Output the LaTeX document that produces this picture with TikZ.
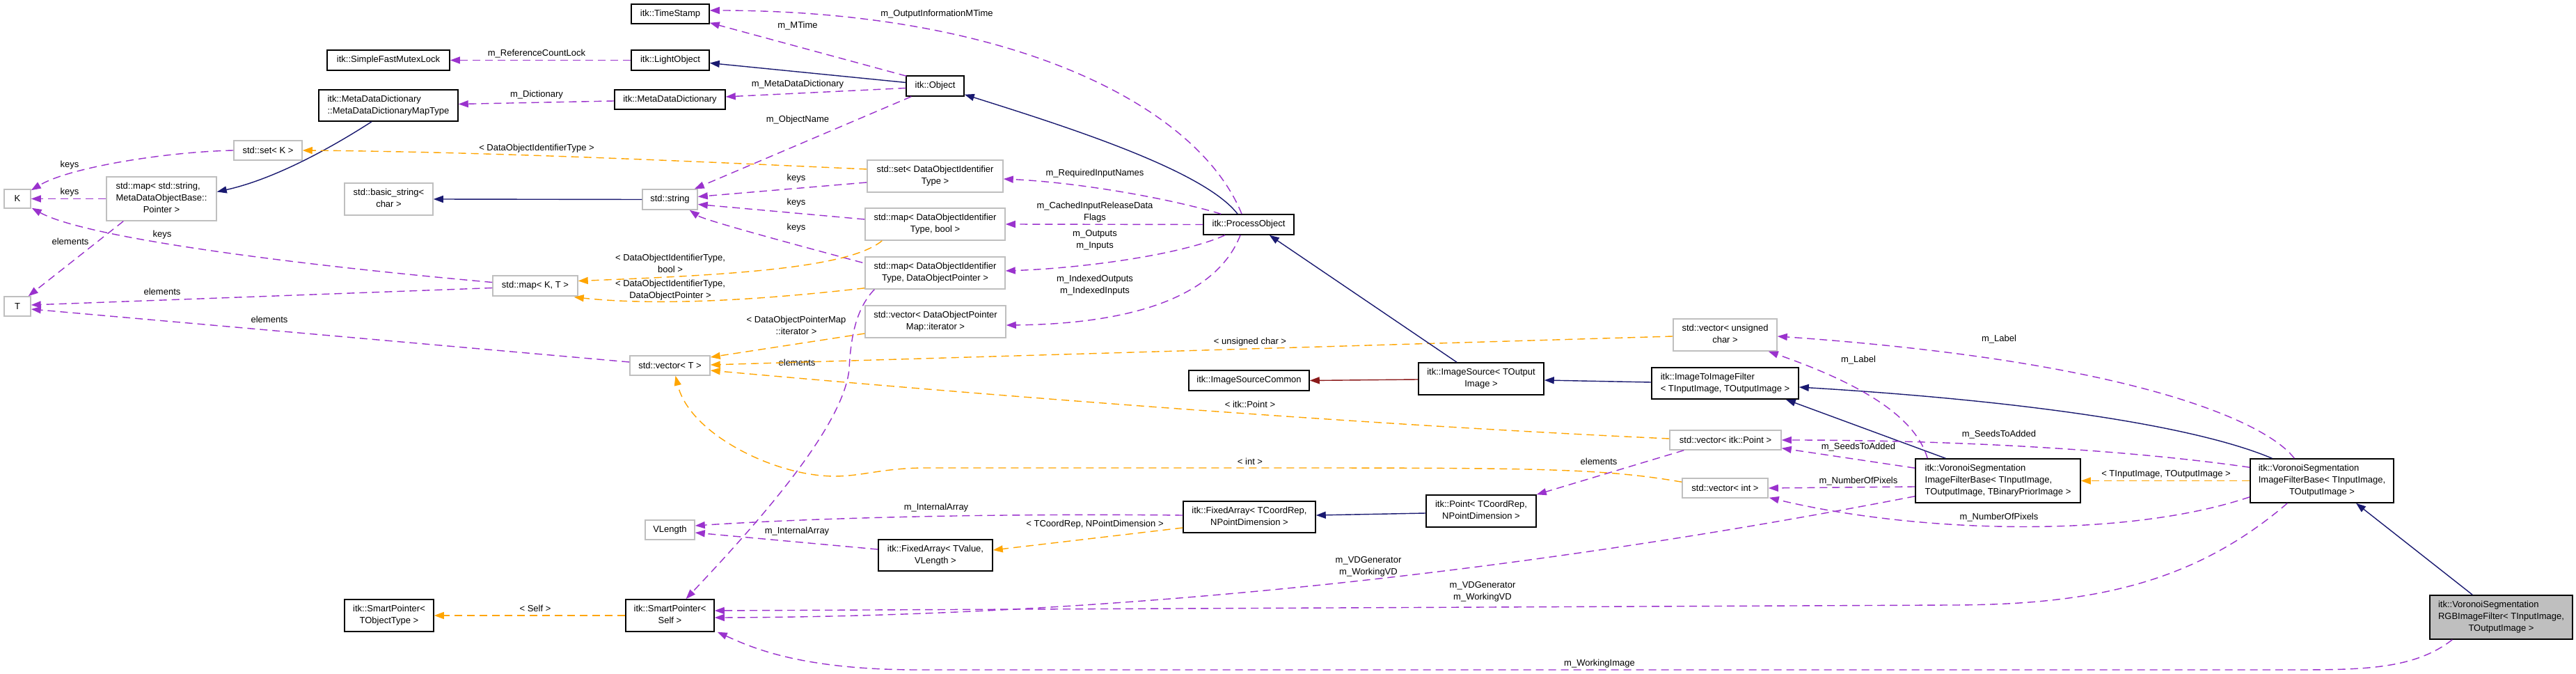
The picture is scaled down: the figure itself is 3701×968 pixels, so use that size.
\documentclass[tikz,border=0pt]{standalone}
\usepackage{fontspec}
\setmainfont{Liberation Sans}
\usetikzlibrary{arrows.meta,calc}
\definecolor{dorchid}{HTML}{9A32CD}
\definecolor{mblue}{HTML}{191970}
\definecolor{orng}{HTML}{FFA500}
\definecolor{fbrick}{HTML}{8B1A1A}
\definecolor{gsev}{HTML}{BFBFBF}
\newcommand{\fsz}{\fontsize{13pt}{17pt}\selectfont}
\newcommand{\dxl}[1]{\begin{tabular}{@{}l@{}}#1\end{tabular}}
\newcommand{\dxc}[1]{\multicolumn{1}{@{}c@{}}{#1}}
\tikzset{
  nbox/.style={draw, line width=1.5pt, inner sep=0pt, font=\fsz, fill=white},
  ndoc/.style={nbox, draw=black},
  nund/.style={nbox, draw=gsev},
  sz/.style 2 args={minimum width=#1pt, minimum height=#2pt},
  lbl/.style={font=\fsz, inner sep=0pt, align=center},
  edgebase/.style={line width=1.4pt, -{Triangle[length=14pt,width=10pt]}},
  eInh/.style={edgebase, draw=mblue},
  eUse/.style={edgebase, draw=dorchid, dash pattern=on 11pt off 7pt},
  eTpl/.style={edgebase, draw=orng, dash pattern=on 11pt off 7pt},
  eRed/.style={edgebase, draw=fbrick},
}
\begin{document}
\begin{tikzpicture}[x=1pt,y=-1pt]
\fill[white] (0,0) rectangle (3701,968);
\useasboundingbox (0,0) rectangle (3701,968);

% ---------- nodes ----------
\node[ndoc,sz={112}{28}] (TS) at (963,20) {itk::TimeStamp};
\node[ndoc,sz={112}{29}] (LO) at (963,86.5) {itk::LightObject};
\node[ndoc,sz={176}{29}] (SFML) at (558,86.5) {itk::SimpleFastMutexLock};
\node[ndoc,sz={159}{28}] (MDD) at (962.5,143) {itk::MetaDataDictionary};
\node[ndoc,sz={200}{45}] (MT) at (558,151.5) {\dxl{itk::MetaDataDictionary\\\dxc{::MetaDataDictionaryMapType}}};
\node[nund,sz={98}{28}] (SK) at (385,216) {std::set< K >};
\node[nund,sz={38}{27}] (K) at (25,285.5) {K};
\node[nund,sz={158}{63}] (MS) at (232,285.5) {\dxl{std::map< std::string,\\MetaDataObjectBase::\\\dxc{Pointer >}}};
\node[nund,sz={38}{28}] (T) at (25,440) {T};
\node[nund,sz={127}{46}] (BS) at (558.5,286) {\dxl{std::basic\_string<\\\dxc{char >}}};
\node[nund,sz={79}{29}] (STR) at (962.5,286.5) {std::string};
\node[nund,sz={122}{29}] (MKT) at (769,410.5) {std::map< K, T >};
\node[nund,sz={115}{28}] (VT) at (962.5,525) {std::vector< T >};
\node[ndoc,sz={83}{29}] (OBJ) at (1343.5,123.5) {itk::Object};
\node[nund,sz={195}{46}] (SDOI) at (1343.5,253) {\dxl{std::set< DataObjectIdentifier\\\dxc{Type >}}};
\node[nund,sz={201}{46}] (MDB) at (1343.5,322) {\dxl{std::map< DataObjectIdentifier\\\dxc{Type, bool >}}};
\node[nund,sz={201}{46}] (MDP) at (1343.5,392) {\dxl{std::map< DataObjectIdentifier\\\dxc{Type, DataObjectPointer >}}};
\node[nund,sz={202}{46}] (VDP) at (1344,462) {\dxl{std::vector< DataObjectPointer\\\dxc{Map::iterator >}}};
\node[ndoc,sz={130}{29}] (PO) at (1794,322.5) {itk::ProcessObject};
\node[ndoc,sz={173}{29}] (ISC) at (1794.5,546.5) {itk::ImageSourceCommon};
\node[ndoc,sz={180}{46}] (IS) at (2128,544) {\dxl{itk::ImageSource< TOutput\\\dxc{Image >}}};
\node[ndoc,sz={211}{45}] (ITIF) at (2478.5,550.5) {\dxl{itk::ImageToImageFilter\\\dxc{< TInputImage, TOutputImage >}}};
\node[nund,sz={149}{46}] (VUC) at (2478.5,481) {\dxl{std::vector< unsigned\\\dxc{char >}}};
\node[nund,sz={160}{28}] (VP) at (2479,632) {std::vector< itk::Point >};
\node[nund,sz={123}{28}] (VI) at (2478.5,701) {std::vector< int >};
\node[nund,sz={71}{28}] (VL) at (962.5,761) {VLength};
\node[ndoc,sz={164}{45}] (FAV) at (1344,797.5) {\dxl{itk::FixedArray< TValue,\\\dxc{VLength >}}};
\node[ndoc,sz={190}{45}] (FAC) at (1795,742.5) {\dxl{itk::FixedArray< TCoordRep,\\\dxc{NPointDimension >}}};
\node[ndoc,sz={158}{46}] (PT) at (2128,734) {\dxl{itk::Point< TCoordRep,\\\dxc{NPointDimension >}}};
\node[ndoc,sz={128}{46}] (SPT) at (559,884) {\dxl{itk::SmartPointer<\\\dxc{TObjectType >}}};
\node[ndoc,sz={127}{46}] (SPS) at (962.5,884) {\dxl{itk::SmartPointer<\\\dxc{Self >}}};
\node[ndoc,sz={237}{63}] (VB3) at (2870.5,690.5) {\dxl{itk::VoronoiSegmentation\\ImageFilterBase< TInputImage,\\\dxc{TOutputImage, TBinaryPriorImage >}}};
\node[ndoc,sz={206}{63}] (VB2) at (3336,690.5) {\dxl{itk::VoronoiSegmentation\\ImageFilterBase< TInputImage,\\\dxc{TOutputImage >}}};
\node[ndoc,sz={205}{63},fill=gsev] (RGB) at (3593.5,886.5) {\dxl{itk::VoronoiSegmentation\\RGBImageFilter< TInputImage,\\\dxc{TOutputImage >}}};

% ---------- labels ----------
\node[lbl] (l1) at (771,77) {m\_ReferenceCountLock};
\node[lbl] (l2) at (771,136) {m\_Dictionary};
\node[lbl] (l3) at (100,237) {keys};
\node[lbl] (l4) at (100,276) {keys};
\node[lbl] (l5) at (101,347) {elements};
\node[lbl] (l6) at (233,337) {keys};
\node[lbl] (l7) at (233,419) {elements};
\node[lbl] (l8) at (387,459) {elements};
\node[lbl] (l9) at (771,213) {< DataObjectIdentifierType >};
\node[lbl] (l10) at (1144,256) {keys};
\node[lbl] (l11) at (1144,291) {keys};
\node[lbl] (l12) at (1144,327) {keys};
\node[lbl] (l13) at (1146,172) {m\_ObjectName};
\node[lbl] (l14) at (1146,37) {m\_MTime};
\node[lbl] (l15) at (1146,121) {m\_MetaDataDictionary};
\node[lbl] (l16) at (1346,20) {m\_OutputInformationMTime};
\node[lbl] (l17) at (1573,249) {m\_RequiredInputNames};
\node[lbl] (l18) at (1573,304.5) {m\_CachedInputReleaseData\\Flags};
\node[lbl] (l19) at (1573,344.5) {m\_Outputs\\m\_Inputs};
\node[lbl] (l20) at (1573,410) {m\_IndexedOutputs\\m\_IndexedInputs};
\node[lbl] (l21) at (963,378) {< DataObjectIdentifierType,\\bool >};
\node[lbl] (l22) at (963,416.5) {< DataObjectIdentifierType,\\DataObjectPointer >};
\node[lbl] (l23) at (1144,467) {< DataObjectPointerMap\\::iterator >};
\node[lbl] (l24) at (1796,491) {< unsigned char >};
\node[lbl] (l25) at (1796,581) {< itk::Point >};
\node[lbl] (l26) at (1796,663) {< int >};
\node[lbl] (l27) at (2297,663) {elements};
\node[lbl] (l28) at (1345,729) {m\_InternalArray};
\node[lbl] (l29) at (1145,763) {m\_InternalArray};
\node[lbl] (l30) at (1573,753) {< TCoordRep, NPointDimension >};
\node[lbl] (l31) at (2670,517) {m\_Label};
\node[lbl] (l32) at (2872,487) {m\_Label};
\node[lbl] (l33) at (2670,642) {m\_SeedsToAdded};
\node[lbl] (l34) at (2872,624) {m\_SeedsToAdded};
\node[lbl] (l35) at (2670,691) {m\_NumberOfPixels};
\node[lbl] (l36) at (2872,743) {m\_NumberOfPixels};
\node[lbl] (l37) at (1966,814) {m\_VDGenerator\\m\_WorkingVD};
\node[lbl] (l38) at (2130,850) {m\_VDGenerator\\m\_WorkingVD};
\node[lbl] (l39) at (2298,953) {m\_WorkingImage};
\node[lbl] (l40) at (3112,681) {< TInputImage, TOutputImage >};
\node[lbl] (l41) at (769,874) {< Self >};
\node[lbl] (l42) at (1145,521) {elements};

% ---------- edges ----------
\draw[eUse] (LO.west) -- (SFML.east);
\draw[eUse] ($(MDD.west)+(0,2)$) -- ($(MT.east)+(0,-2)$);
\draw[eInh] ($(MT.south)+(-24,0)$) .. controls (470,216) and (391,258) .. ($(MS.east)+(0,-10)$);
\draw[eUse] (SK.west) .. controls (240,218) and (100,240) .. ($(K.north east)+(0,2)$);
\draw[eUse] (MS.west) -- (K.east);
\draw[eUse] ($(MS.south west)+(25,0)$) -- ($(T.north east)+(-4,0)$);
\draw[eUse] ($(MKT.west)+(0,-5)$) .. controls (400,378) and (120,340) .. ($(K.south east)+(1,-1)$);
\draw[eUse] ($(MKT.west)+(0,3)$) -- ($(T.east)+(0,-2)$);
\draw[eUse] ($(VT.west)+(0,-5)$) -- ($(T.east)+(0,4)$);
\draw[eTpl] ($(SDOI.west)+(0,-10)$) .. controls (1000,232) and (700,218) .. (SK.east);
\draw[eUse] ($(SDOI.west)+(0,9)$) -- ($(STR.east)+(0,-4)$);
\draw[eUse] ($(MDB.west)+(0,-7)$) -- ($(STR.east)+(0,7)$);
\draw[eUse] ($(MDP.north west)+(-3,9)$) .. controls (1100,340) and (1010,315) .. ($(STR.south east)+(-12,0)$);
\draw[eInh] (STR.west) -- (BS.east);
\draw[eUse] ($(OBJ.south west)+(8,0)$) -- ($(STR.north east)+(-5,0)$);
\draw[eInh] ($(OBJ.west)+(0,-5)$) -- ($(LO.east)+(0,4)$);
\draw[eUse] ($(OBJ.north west)+(1,1)$) -- ($(TS.south east)+(0,-2)$);
\draw[eUse] ($(OBJ.west)+(0,3)$) -- ($(MDD.east)+(0,-4)$);
\draw[eUse] ($(PO.north)+(-10,0)$) .. controls (1720,150) and (1450,15) .. ($(TS.east)+(0,-5)$);
\draw[eInh] ($(PO.north)+(-16,0)$) .. controls (1730,245) and (1536,183) .. ($(OBJ.south east)+(0,-3)$);
\draw[eUse] ($(PO.north west)+(26,0)$) .. controls (1680,285) and (1550,262) .. ($(SDOI.east)+(0,4)$);
\draw[eUse] (PO.west) -- (MDB.east);
\draw[eUse] ($(PO.south)+(-34,0)$) .. controls (1700,365) and (1560,385) .. ($(MDP.east)+(0,-3)$);
\draw[eUse] ($(PO.south)+(-12,0)$) .. controls (1750,420) and (1640,465) .. ($(VDP.east)+(0,5)$);
\draw[eTpl] ($(MDB.south west)+(25,0)$) .. controls (1220,385) and (1050,395) .. ($(MKT.east)+(0,-7)$);
\draw[eTpl] ($(MDP.south west)+(0,-2)$) .. controls (1100,430) and (950,440) .. ($(MKT.south east)+(-6,1)$);
\draw[eTpl] ($(VDP.west)+(0,17)$) -- ($(VT.east)+(0,-12)$);
\draw[eTpl] ($(VUC.west)+(0,2)$) -- ($(VT.east)+(0,-1)$);
\draw[eTpl] ($(VP.west)+(0,-2)$) .. controls (2000,612) and (1500,575) .. ($(VT.east)+(0,7)$);
\draw[eTpl] ($(VI.north west)+(0,6)$) .. controls (2300,672) and (2200,672) .. (1800,672) -- (1330,672)
   .. controls (1260,672) and (1230,688) .. (1180,683) .. controls (1100,676) and (990,620) .. ($(VT.south)+(8,0)$);
\draw[eUse] ($(VP.south west)+(21,0)$) -- (PT.north east);
\draw[eUse] ($(FAC.west)+(0,-2.5)$) .. controls (1400,737) and (1150,745) .. ($(VL.east)+(0,-6)$);
\draw[eUse] ($(FAV.west)+(0,-8.5)$) -- ($(VL.east)+(0,4)$);
\draw[eTpl] ($(FAC.west)+(0,15.5)$) -- ($(FAV.east)+(0,-7.5)$);
\draw[eInh] ($(PT.west)+(0,3)$) -- ($(FAC.east)+(0,-2.5)$);
\draw[eInh] ($(IS.north)+(-35,0)$) -- ($(PO.south east)+(-36,0)$);
\draw[eRed] ($(IS.west)+(0,1)$) -- (ISC.east);
\draw[eInh] ($(ITIF.west)+(0,-1.5)$) -- ($(IS.east)+(0,2)$);
\draw[eInh] ($(VB3.north west)+(44,0)$) -- ($(ITIF.south east)+(-19,0)$);
\draw[eInh] ($(VB2.north west)+(32,0)$) .. controls (3150,610) and (2900,575) .. ($(ITIF.east)+(0,5.5)$);
\draw[eUse] ($(VB3.north west)+(18,0)$) .. controls (2755,610) and (2700,560) .. ($(VUC.south east)+(-13,0)$);
\draw[eUse] ($(VB2.north west)+(64,0)$) .. controls (3260,610) and (3080,520) .. ($(VUC.east)+(0,2)$);
\draw[eUse] ($(VB3.north west)+(0,14)$) -- ($(VP.south east)+(0,-3)$);
\draw[eUse] ($(VB2.north west)+(0,13)$) .. controls (3050,645) and (2800,632) .. (VP.east);
\draw[eUse] ($(VB3.west)+(0,8.5)$) -- (VI.east);
\draw[eUse] ($(VB2.south west)+(0,-9)$) .. controls (3050,775) and (2750,765) .. ($(VI.south east)+(1,-1)$);
\draw[eUse] ($(VB3.south west)+(0,-10)$) .. controls (2300,800) and (1700,885) .. ($(SPS.east)+(0,3)$);
\draw[eUse] ($(VB2.south west)+(54,0)$) .. controls (3150,840) and (3000,869) .. (2800,869) -- ($(SPS.east)+(0,-7)$);
\draw[eUse] ($(RGB.south west)+(33,0)$) .. controls (3470,960) and (3400,962) .. (3300,962) -- (1320,962)
   .. controls (1150,962) and (1080,930) .. ($(SPS.south east)+(4,0)$);
\draw[eInh] ($(RGB.north west)+(62,0)$) -- ($(VB2.south)+(49,0)$);
\draw[eTpl] (VB2.west) -- (VB3.east);
\draw[eTpl] (SPS.west) -- (SPT.east);
\draw[eUse] ($(MDP.south west)+(14,0)$) .. controls (1228,445) and (1222,490) .. (1220,530)
   .. controls (1212,615) and (1080,760) .. ($(SPS.north)+(23,0)$);
\end{tikzpicture}
\end{document}
